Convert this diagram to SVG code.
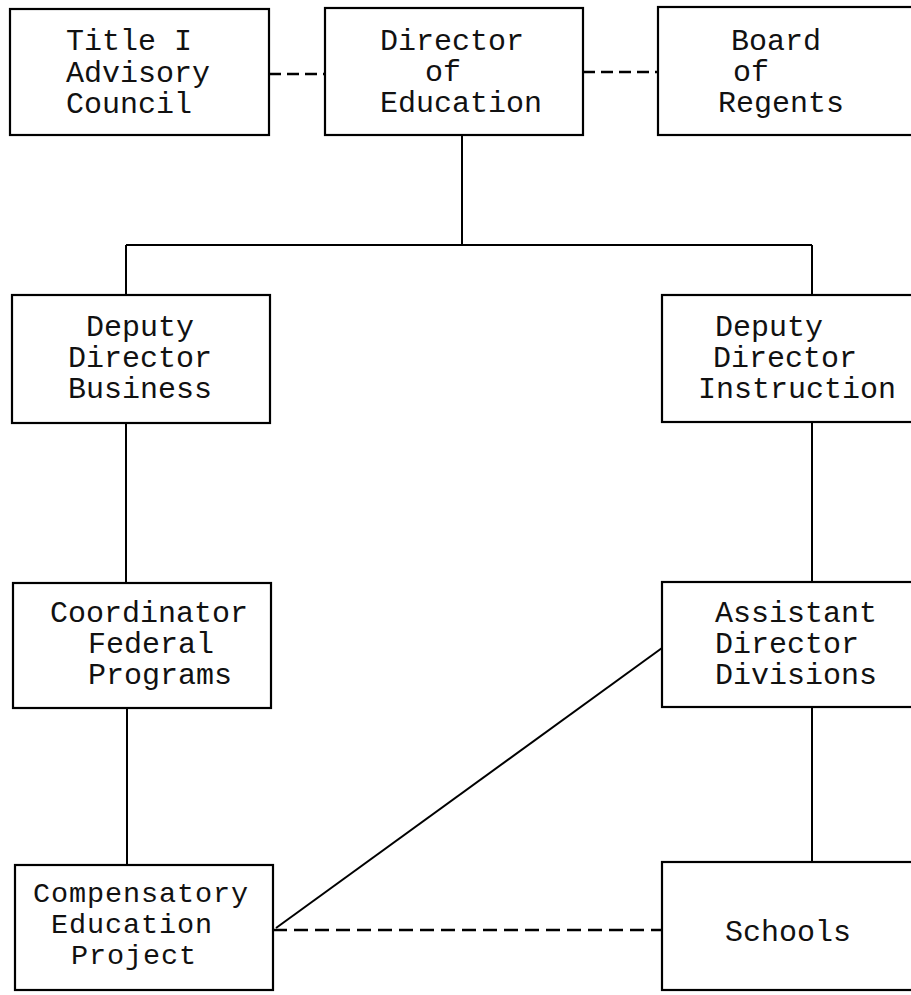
<svg xmlns="http://www.w3.org/2000/svg" width="911" height="995" viewBox="0 0 911 995">
<style>
rect.box{fill:#fff;stroke:#000;stroke-width:2.2}
.ln{stroke:#000;stroke-width:2;fill:none}
.dash{stroke:#000;stroke-width:2.4;fill:none;stroke-dasharray:12 6}
text{font-family:"Liberation Mono","DejaVu Sans Mono",monospace;font-size:30px;fill:#111}
text.sm{font-size:28.5px;letter-spacing:0.9px}
</style>
<rect x="0" y="0" width="911" height="995" fill="#fff"/>
<g id="connectors">
<line class="ln" x1="462" y1="135" x2="462" y2="245"/>
<line class="ln" x1="126" y1="245" x2="812" y2="245"/>
<line class="ln" x1="126" y1="245" x2="126" y2="295"/>
<line class="ln" x1="812" y1="245" x2="812" y2="295"/>
<line class="ln" x1="126" y1="423" x2="126" y2="583"/>
<line class="ln" x1="812" y1="422" x2="812" y2="582"/>
<line class="ln" x1="127" y1="708" x2="127" y2="865"/>
<line class="ln" x1="812" y1="707" x2="812" y2="862"/>
<line class="ln" x1="276" y1="928" x2="662" y2="648"/>
<line class="dash" x1="269" y1="74" x2="325" y2="74"/>
<line class="dash" x1="583" y1="72" x2="658" y2="72"/>
<line class="dash" x1="273" y1="930" x2="662" y2="930" style="stroke-dasharray:14 7"/>
</g>
<g id="title1">
<rect class="box" x="10" y="9" width="259" height="126"/>
<text x="66" y="50">Title I</text>
<text x="66" y="82">Advisory</text>
<text x="66" y="113">Council</text>
</g>
<g id="director">
<rect class="box" x="325" y="8" width="258" height="127"/>
<text x="380" y="50">Director</text>
<text x="425" y="81">of</text>
<text x="380" y="112">Education</text>
</g>
<g id="board">
<rect class="box" x="658" y="7" width="262" height="128"/>
<text x="731" y="50">Board</text>
<text x="733" y="81">of</text>
<text x="718" y="112">Regents</text>
</g>
<g id="deputy-business">
<rect class="box" x="12" y="295" width="258" height="128"/>
<text x="86" y="336">Deputy</text>
<text x="68" y="367">Director</text>
<text x="68" y="398">Business</text>
</g>
<g id="deputy-instruction">
<rect class="box" x="662" y="295" width="258" height="127"/>
<text x="715" y="336">Deputy</text>
<text x="713" y="367">Director</text>
<text x="698" y="398">Instruction</text>
</g>
<g id="coordinator">
<rect class="box" x="13" y="583" width="258" height="125"/>
<text x="50" y="622">Coordinator</text>
<text x="88" y="653">Federal</text>
<text x="88" y="684">Programs</text>
</g>
<g id="assistant">
<rect class="box" x="662" y="582" width="258" height="125"/>
<text x="715" y="622">Assistant</text>
<text x="715" y="653">Director</text>
<text x="715" y="684">Divisions</text>
</g>
<g id="compensatory">
<rect class="box" x="15" y="865" width="258" height="125"/>
<text class="sm" x="33" y="902">Compensatory</text>
<text class="sm" x="51" y="933">Education</text>
<text class="sm" x="71" y="964">Project</text>
</g>
<g id="schools">
<rect class="box" x="662" y="862" width="258" height="128"/>
<text x="725" y="941">Schools</text>
</g>
</svg>
